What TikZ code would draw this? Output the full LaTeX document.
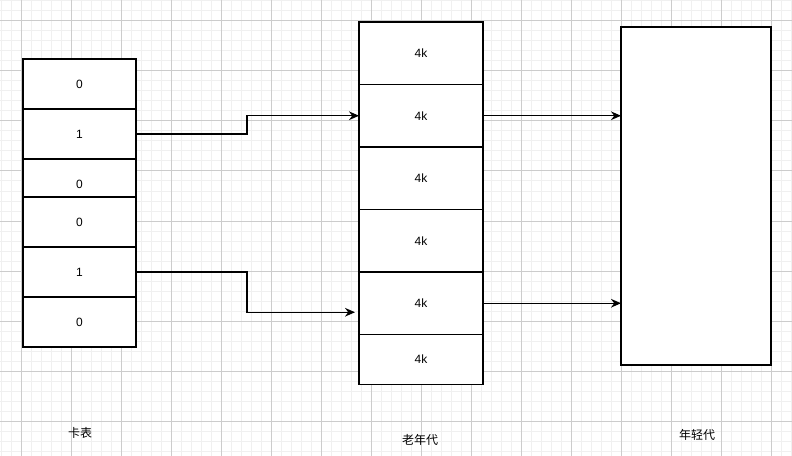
\documentclass[tikz,border=0pt]{standalone}
\usepackage{fontspec}
\setmainfont{Liberation Sans}
\newfontfamily\cjk{Noto Sans CJK SC}
\usepackage{xcolor}
\usepackage{tikz}
\usetikzlibrary{arrows.meta,positioning}

\definecolor{gridminor}{HTML}{F0F0F0}
\definecolor{gridmajor}{HTML}{CCCCCC}

\begin{document}
\begin{tikzpicture}[x=0.75pt,y=-0.75pt,>={Stealth[length=7.5pt,width=6.5pt]},line width=0.9pt,on grid,node distance=37.5pt,
        cell/.style={draw,fill=white,inner sep=0pt,outer sep=0pt,minimum width=84.75pt,minimum height=37.5pt,font=\fontsize{9}{10}\selectfont},
        page/.style={draw,fill=white,inner sep=0pt,outer sep=0pt,minimum width=93pt,minimum height=46.875pt,font=\fontsize{9}{10}\selectfont},
        tag/.style={inner sep=0pt,font=\cjk\fontsize{9}{10}\selectfont}]
        \useasboundingbox (0,0) rectangle (792,456);
        \fill[white] (0,0) rectangle (792,456);
        % background grid
        \foreach \gx in {1,11,...,791} \draw[gridminor,line width=0.75pt] (\gx,0) -- (\gx,456);
        \foreach \gy in {1,11,...,451} \draw[gridminor,line width=0.75pt] (0,\gy) -- (792,\gy);
        \foreach \gx in {21,71,...,771} \draw[gridmajor,line width=0.75pt] (\gx,0) -- (\gx,456);
        \foreach \gy in {21,71,...,421} \draw[gridmajor,line width=0.75pt] (0,\gy) -- (792,\gy);
        % card table
        \node[cell] (c1) at (79.5,84) {0};
        \node[cell] (c2) [below=of c1] {1};
        \node[cell] (c3) [below=of c2] {0};
        \node[cell] (c4) [below=28.5pt of c3] {0};
        \node[cell] (c5) [below=of c4] {1};
        \node[cell] (c6) [below=of c5] {0};
        % old generation
        \node[page] (o1) at (421,53.25) {4k};
        \node[page] (o2) [below=46.875pt of o1] {4k};
        \node[page] (o3) [below=46.875pt of o2] {4k};
        \node[page] (o4) [below=46.875pt of o3] {4k};
        \node[page] (o5) [below=46.875pt of o4] {4k};
        \node[page,minimum height=37.5pt] (o6) [below=42pt of o5] {4k};
        % redraw outlines covered by the next box
        \foreach \n in {c1,c2,c4,c5,c6,o1,o2,o3,o4,o5,o6}
            \draw (\n.south west) rectangle (\n.north east);
        % young generation
        \node[draw,fill=white,outer sep=0pt,minimum width=112.5pt,minimum height=253.5pt] (young) at (696,196) {};
        \node[tag] (t1) at (80,433) {卡表};
        \node[tag] (t2) at (420,440) {老年代};
        \node[tag] (t3) at (697,435) {年轻代};
        \coordinate (a5) at ([xshift=-3pt,yshift=-6.75pt]o5.west);
        \draw[->] (c2.east) -- ++(111,0) |- (o2.west);
        \draw[->] (c5.east) -- ++(111,0) |- (a5);
        \draw[->] (o2.east) -- (o2.east -| young.west);
        \draw[->] (o5.east) -- (o5.east -| young.west);
\end{tikzpicture}
\end{document}
